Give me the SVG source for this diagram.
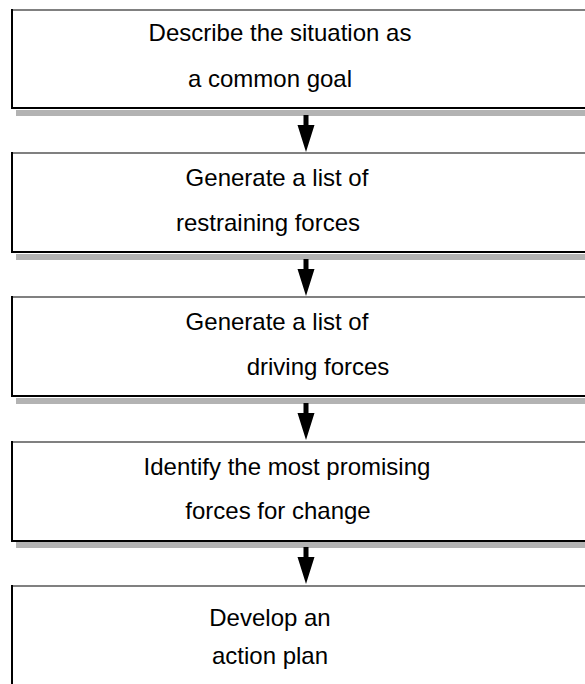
<svg xmlns="http://www.w3.org/2000/svg" width="585" height="684" viewBox="0 0 585 684">
  <style>
    .shadow { fill: #b3b3b3; }
    .top { stroke: #808080; stroke-width: 2; }
    .side { stroke: #000; stroke-width: 2; fill: none; }
    .lbl { font-family: "Liberation Sans", Arial, sans-serif; font-size: 24px; fill: #000; text-anchor: middle; }
    .arrow { fill: #000; }
  </style>
  <defs>
    <!-- down arrow: shaft and head -->
    <path id="down" d="M-2.5,0 H2.5 V10 H8.5 L0,37 L-8.5,10 H-2.5 Z"/>
  </defs>

  <g id="step1">
    <rect class="shadow" x="16" y="110" width="569" height="6"/>
    <line class="top" x1="12" y1="10" x2="585" y2="10"/>
    <path class="side" d="M12,9 V108 H585"/>
    <text class="lbl" x="280" y="41">Describe the situation as</text>
    <text class="lbl" x="270" y="87">a common goal</text>
  </g>

  <g id="step2">
    <rect class="shadow" x="16" y="254" width="569" height="6"/>
    <line class="top" x1="12" y1="153" x2="585" y2="153"/>
    <path class="side" d="M12,152 V252 H585"/>
    <text class="lbl" x="277" y="186">Generate a list of</text>
    <text class="lbl" x="268" y="231">restraining forces</text>
  </g>

  <g id="step3">
    <rect class="shadow" x="16" y="398" width="569" height="6"/>
    <line class="top" x1="12" y1="297" x2="585" y2="297"/>
    <path class="side" d="M12,296 V396 H585"/>
    <text class="lbl" x="277" y="330">Generate a list of</text>
    <text class="lbl" x="318" y="375">driving forces</text>
  </g>

  <g id="step4">
    <rect class="shadow" x="16" y="542" width="569" height="6"/>
    <line class="top" x1="12" y1="442" x2="585" y2="442"/>
    <path class="side" d="M12,441 V541 H585"/>
    <text class="lbl" x="287" y="475">Identify the most promising</text>
    <text class="lbl" x="278" y="519">forces for change</text>
  </g>

  <g id="step5">
    <line class="top" x1="12" y1="586" x2="585" y2="586"/>
    <path class="side" d="M12,585 V684"/>
    <text class="lbl" x="270" y="626">Develop an</text>
    <text class="lbl" x="270" y="664">action plan</text>
  </g>

  <g id="connectors" class="arrow">
    <use href="#down" x="306" y="115"/>
    <use href="#down" x="306" y="259"/>
    <use href="#down" x="306" y="403"/>
    <use href="#down" x="306" y="547"/>
  </g>
</svg>
